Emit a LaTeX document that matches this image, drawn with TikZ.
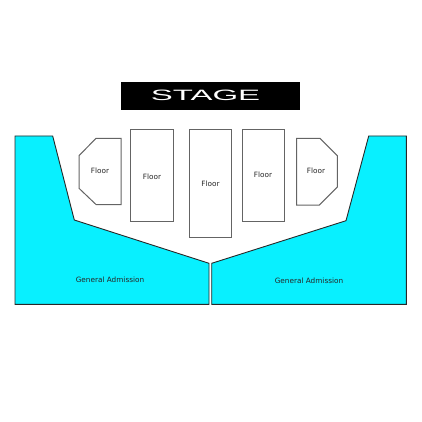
\documentclass[tikz,border=0pt]{standalone}
\usepackage{fontspec}
\setmainfont{DejaVu Sans}
\newfontfamily\stagefont{Liberation Sans}
\definecolor{gacyan}{RGB}{8,240,255}
\definecolor{floorline}{RGB}{100,100,100}
\definecolor{galine}{RGB}{40,40,40}
\begin{document}
\begin{tikzpicture}[x=1pt,y=-1pt,
  gaarea/.style={fill=gacyan,draw=galine,line width=0.9pt,line join=miter},
  floorarea/.style={fill=white,draw=floorline,line width=1pt},
  lbl/.style={font=\fontsize{7.3}{8}\selectfont,text=black!85,inner sep=0pt}]
\useasboundingbox (0,0) rectangle (422,422);
% stage
\fill[black] (121,82) rectangle (300,110);
\node[inner sep=0pt,text=white,font=\stagefont\fontsize{15}{16}\selectfont,xscale=2.2] (stage) at (205.5,95.5) {STAGE};
% general admission
\draw[gaarea] (15,136) -- (52.7,136) -- (74.3,220) -- (209,263.3) -- (209,304.3) -- (15,304.3) -- cycle;
\draw[gaarea] (211.7,263.3) -- (346,220.7) -- (368.7,136) -- (406.3,136) -- (406.3,304.3) -- (211.7,304.3) -- cycle;
% floors
\draw[floorarea] (96,138.3) -- (121,138.3) -- (121,204.5) -- (96,204.5) -- (79,188.3) -- (79,155.7) -- cycle;
\draw[floorarea] (130.5,129.7) rectangle (173.3,221.7);
\draw[floorarea] (189.3,129.7) rectangle (231.7,237);
\draw[floorarea] (242.7,129.7) rectangle (284.3,221.7);
\draw[floorarea] (296.7,138.3) -- (320,138.3) -- (337.3,155.7) -- (337.3,187) -- (319.3,205) -- (296.7,205) -- cycle;
% labels
\node[lbl] (f1) at (100,171) {Floor};
\node[lbl] (f2) at (152,176.5) {Floor};
\node[lbl] (f3) at (210.5,183.5) {Floor};
\node[lbl] (f4) at (263,175) {Floor};
\node[lbl] (f5) at (316,171) {Floor};
\node[lbl] (ga1) at (110,280) {General Admission};
\node[lbl] (ga2) at (309,281) {General Admission};
\end{tikzpicture}
\end{document}
